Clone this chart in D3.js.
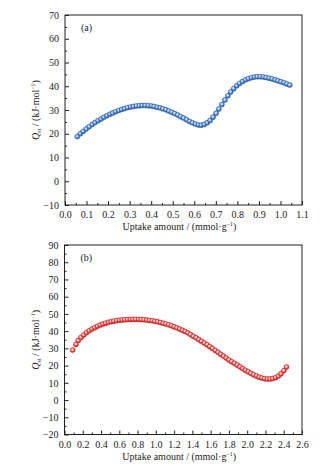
<!DOCTYPE html>
<html>
<head>
<meta charset="utf-8">
<script src="https://cdn.jsdelivr.net/npm/d3@7"></script>
<style>
  body { margin: 0; background: #fff; }
  svg { display: block; font-family: 'Liberation Serif', 'DejaVu Serif', serif; }
  .axis path, .axis line { stroke: #222; }
  .axis text { fill: #222; font-size: 10px; font-family: 'Liberation Serif', serif; }
</style>
</head>
<body>
<div id="chart"></div>
<script>
// panel (a)
var uptakeA = [0.057, 0.071, 0.084, 0.098, 0.112, 0.126, 0.139, 0.153, 0.167, 0.180,
    0.194, 0.208, 0.221, 0.235, 0.249, 0.263, 0.276, 0.290, 0.304, 0.317,
    0.331, 0.345, 0.358, 0.372, 0.386, 0.400, 0.413, 0.427, 0.441, 0.454,
    0.468, 0.482, 0.495, 0.509, 0.523, 0.537, 0.550, 0.564, 0.578, 0.591,
    0.605, 0.619, 0.632, 0.646, 0.660, 0.673, 0.687, 0.701, 0.714, 0.728,
    0.742, 0.756, 0.769, 0.783, 0.797, 0.810, 0.824, 0.838, 0.851, 0.865,
    0.879, 0.892, 0.906, 0.920, 0.933, 0.947, 0.961, 0.975, 0.988, 1.002,
    1.016, 1.029, 1.043];
var qstA = [18.8, 20.0, 21.0, 22.0, 23.0, 23.9, 24.7, 25.5, 26.2, 26.9,
    27.6, 28.2, 28.7, 29.3, 29.8, 30.2, 30.6, 31.0, 31.3, 31.5,
    31.7, 31.8, 31.9, 31.9, 31.8, 31.7, 31.5, 31.2, 30.9, 30.5,
    30.1, 29.6, 29.1, 28.5, 27.9, 27.2, 26.6, 25.9, 25.2, 24.6,
    24.1, 23.7, 23.6, 23.9, 24.6, 25.6, 27.0, 28.6, 30.4, 32.3,
    34.2, 36.0, 37.6, 39.0, 40.2, 41.2, 42.0, 42.7, 43.2, 43.6,
    43.9, 44.0, 44.0, 43.9, 43.7, 43.4, 43.1, 42.7, 42.3, 41.9,
    41.5, 41.0, 40.5];

// panel (b)
var uptakeB = [0.09, 0.125, 0.15, 0.18, 0.21, 0.24, 0.27, 0.30, 0.33, 0.36,
    0.39, 0.42, 0.45, 0.48, 0.51, 0.54, 0.57, 0.60, 0.63, 0.66,
    0.69, 0.72, 0.75, 0.78, 0.81, 0.84, 0.87, 0.90, 0.93, 0.96,
    0.99, 1.02, 1.05, 1.08, 1.11, 1.14, 1.17, 1.20, 1.23, 1.26,
    1.29, 1.32, 1.35, 1.38, 1.41, 1.44, 1.47, 1.50, 1.53, 1.56,
    1.59, 1.62, 1.65, 1.68, 1.71, 1.74, 1.77, 1.80, 1.83, 1.86,
    1.89, 1.92, 1.95, 1.98, 2.01, 2.04, 2.07, 2.10, 2.13, 2.16,
    2.19, 2.22, 2.25, 2.28, 2.31, 2.34, 2.37, 2.40, 2.43];
var qstB = [29.0, 32.3, 34.5, 36.3, 37.8, 39.1, 40.2, 41.2, 42.0, 42.8,
    43.5, 44.1, 44.6, 45.1, 45.5, 45.8, 46.1, 46.3, 46.5, 46.6,
    46.7, 46.8, 46.8, 46.8, 46.8, 46.7, 46.6, 46.4, 46.2, 46.0,
    45.7, 45.4, 45.0, 44.6, 44.2, 43.7, 43.1, 42.5, 41.9, 41.2,
    40.5, 39.8, 39.0, 38.0, 37.0, 36.1, 35.1, 34.1, 33.1, 32.1,
    31.0, 29.9, 28.8, 27.7, 26.6, 25.5, 24.4, 23.3, 22.3, 21.3,
    20.3, 19.3, 18.3, 17.3, 16.4, 15.5, 14.7, 14.0, 13.3, 12.8,
    12.4, 12.2, 12.2, 12.5, 13.0, 13.9, 15.2, 17.0, 19.2];

var xTicksA = [0.0, 0.1, 0.2, 0.3, 0.4, 0.5, 0.6, 0.7, 0.8, 0.9, 1.0, 1.1];
var yTicksA = [-10, 0, 10, 20, 30, 40, 50, 60, 70];
var xTicksB = [0.0, 0.2, 0.4, 0.6, 0.8, 1.0, 1.2, 1.4, 1.6, 1.8, 2.0, 2.2, 2.4, 2.6];
var yTicksB = [-20, -10, 0, 10, 20, 30, 40, 50, 60, 70, 80, 90];

var svg = d3.select('#chart').append('svg')
    .attr('width', 325).attr('height', 468);

var defs = svg.append('defs');
var addGrad = function(id, light, mid, dark) {
    var g = defs.append('radialGradient').attr('id', id)
        .attr('cx', '45%').attr('cy', '40%').attr('r', '60%');
    g.append('stop').attr('offset', '0%').attr('stop-color', light);
    g.append('stop').attr('offset', '30%').attr('stop-color', light);
    g.append('stop').attr('offset', '60%').attr('stop-color', mid);
    g.append('stop').attr('offset', '100%').attr('stop-color', dark);
}
addGrad('gBlue', '#c2d6f0', '#4a80c8', '#2a5ba3');
addGrad('gRed', '#fbd0d0', '#e24545', '#cc2020');

var drawPanel = function(opt) {
    var g = svg.append('g');
    var x = d3.scaleLinear().domain(opt.xDomain).range([opt.left, opt.right]);
    var y = d3.scaleLinear().domain(opt.yDomain).range([opt.bottom, opt.top]);

    // minor ticks
    g.append('g').attr('class', 'axis')
        .attr('transform', 'translate(0,' + opt.bottom + ')')
        .call(d3.axisBottom(x).tickValues(opt.xMinor).tickSize(-2).tickFormat(''))
        .select('.domain').remove();
    g.append('g').attr('class', 'axis')
        .attr('transform', 'translate(' + opt.left + ',0)')
        .call(d3.axisLeft(y).tickValues(opt.yMinor).tickSize(-2).tickFormat(''))
        .select('.domain').remove();

    var xa = g.append('g').attr('class', 'axis')
        .attr('transform', 'translate(0,' + opt.bottom + ')')
        .call(d3.axisBottom(x).tickValues(opt.xTicks).tickSize(-4).tickPadding(6)
            .tickFormat(d3.format('.1f')));
    xa.select('.domain').remove();

    var ya = g.append('g').attr('class', 'axis')
        .attr('transform', 'translate(' + opt.left + ',0)')
        .call(d3.axisLeft(y).tickValues(opt.yTicks).tickSize(-4).tickPadding(6)
            .tickFormat(function(d) { return d < 0 ? '\u2212' + Math.abs(d) : d; }));
    ya.select('.domain').remove();

    g.append('rect')
        .attr('x', opt.left).attr('y', opt.top)
        .attr('width', opt.right - opt.left).attr('height', opt.bottom - opt.top)
        .style('fill', 'none').style('stroke', '#222').style('stroke-width', 1);

    var data = opt.xs.map(function(d, i) { return { u: d, q: opt.ys[i] }; });
    g.selectAll('.point').data(data)
        .enter().append('circle')
        .attr('class', 'point')
        .attr('cx', function(d) { return x(d.u); })
        .attr('cy', function(d) { return y(d.q); })
        .attr('r', 2.5)
        .style('fill', 'url(#' + opt.grad + ')')
        .style('stroke', opt.stroke).style('stroke-width', 0.5);

    g.append('text')
        .attr('x', opt.left + 16).attr('y', opt.top + 16)
        .style('font-size', '10px').style('fill', '#222')
        .text(opt.label);

    var xt = g.append('text')
        .attr('x', (opt.left + opt.right) / 2 - 4).attr('y', opt.bottom + 25)
        .style('text-anchor', 'middle').style('font-size', '10px').style('fill', '#222');
    xt.append('tspan').text('Uptake amount / (mmol\u00b7g');
    xt.append('tspan').attr('dy', -4).style('font-size', '6px').text('\u22121');
    xt.append('tspan').attr('dy', 4).text(')');

    var cy = (opt.top + opt.bottom) / 2;
    var yt = g.append('text')
        .attr('transform', 'translate(' + (opt.left - 26) + ',' + cy + ') rotate(-90)')
        .style('text-anchor', 'middle').style('font-size', '10px').style('fill', '#222');
    yt.append('tspan').style('font-style', 'italic').text('Q');
    yt.append('tspan').attr('dy', 2).style('font-size', '6px').text('st');
    yt.append('tspan').attr('dy', -2).text(' / (kJ\u00b7mol');
    yt.append('tspan').attr('dy', -4).style('font-size', '6px').text('\u22121');
    yt.append('tspan').attr('dy', 4).text(')');
}

drawPanel({
    left: 65, right: 302, top: 15, bottom: 205,
    xDomain: [0, 1.1], yDomain: [-10, 70],
    xTicks: xTicksA, yTicks: yTicksA,
    xMinor: d3.range(0.05, 1.1, 0.1), yMinor: d3.range(-5, 70, 10),
    xs: uptakeA, ys: qstA, grad: 'gBlue', stroke: '#2a5ba3', label: '(a)'
});

drawPanel({
    left: 64.5, right: 302, top: 245, bottom: 434.5,
    xDomain: [0, 2.6], yDomain: [-20, 90],
    xTicks: xTicksB, yTicks: yTicksB,
    xMinor: d3.range(0.1, 2.6, 0.2), yMinor: d3.range(-15, 90, 10),
    xs: uptakeB, ys: qstB, grad: 'gRed', stroke: '#cc2020', label: '(b)'
});
</script>
</body>
</html>
